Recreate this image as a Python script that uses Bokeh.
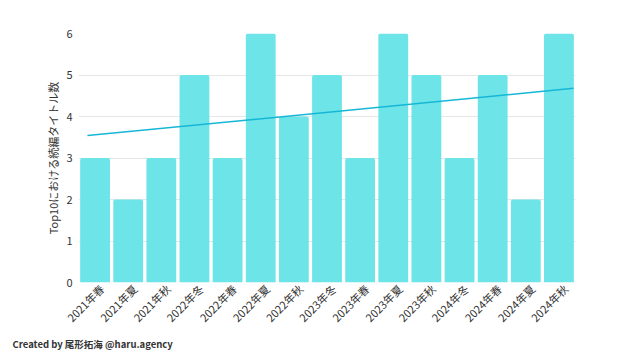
from bokeh.plotting import figure
from bokeh.models import Range1d, FixedTicker, Title, ColumnDataSource
from bokeh.embed import file_html
from bokeh.resources import INLINE

categories = ["2021年春", "2021年夏", "2021年秋", "2022年冬", "2022年春", "2022年夏", "2022年秋",
              "2023年冬", "2023年春", "2023年夏", "2023年秋", "2024年冬", "2024年春", "2024年夏", "2024年秋"]
counts = [3, 2, 3, 5, 3, 6, 4, 5, 3, 6, 5, 3, 5, 2, 6]
trend_values = [3.54, 4.68]
y_ticks = [0, 1, 2, 3, 4, 5, 6]

FONT = "Noto Sans CJK JP"
xs = [i + 0.5 for i in range(len(categories))]
label_pos = [x + 0.2 for x in xs]
src = ColumnDataSource(dict(x=xs, top=counts))

p = figure(width=630, height=354, output_backend="svg", toolbar_location=None,
           x_range=Range1d(0, len(categories)), y_range=Range1d(0, 6),
           min_border_left=78, min_border_right=55, min_border_top=33, min_border_bottom=72)
p.outline_line_color = None
p.background_fill_color = "white"
p.border_fill_color = "white"

p.vbar(x="x", top="top", width=0.9, source=src, fill_color="#6de4e8", line_color=None,
       border_radius=(2, 2, 0, 0))
p.line(x=[0.27, 14.94], y=trend_values, line_color="#16b6d6", line_width=1.5)

p.xgrid.visible = False
p.ygrid.grid_line_color = "#e6e6e6"
p.ygrid.grid_line_width = 1

p.yaxis.ticker = FixedTicker(ticks=y_ticks)
p.xaxis.ticker = FixedTicker(ticks=label_pos)
p.xaxis.major_label_overrides = {x: c for x, c in zip(label_pos, categories)}
p.xaxis.major_label_orientation = 0.785
for ax in (p.xaxis[0], p.yaxis[0]):
    ax.axis_line_color = None
    ax.major_tick_line_color = None
    ax.minor_tick_line_color = None
    ax.major_tick_out = 0
    ax.minor_tick_out = 0
    ax.major_label_text_font = FONT
    ax.major_label_text_font_size = "11px"
    ax.major_label_text_color = "#333333"
p.yaxis.major_label_standoff = 6
p.xaxis.major_label_standoff = 4
p.yaxis.axis_label = "Top10における続編タイトル数"
p.yaxis.axis_label_text_font = FONT
p.yaxis.axis_label_text_font_size = "11px"
p.yaxis.axis_label_text_font_style = "normal"
p.yaxis.axis_label_text_color = "#333333"
p.yaxis.axis_label_standoff = 2

credit = Title(text="Created by 尾形拓海 @haru.agency", align="left", offset=-66, standoff=3,
               text_font=FONT, text_font_size="9.5px", text_font_style="bold", text_color="#333333")
p.add_layout(credit, "below")

open("out.html", "w").write(file_html(p, INLINE))
